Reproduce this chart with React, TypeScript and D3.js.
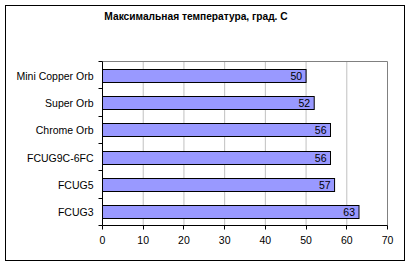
import React from "react";
import * as d3 from "d3";

const categories = ["Mini Copper Orb", "Super Orb", "Chrome Orb", "FCUG9C-6FC", "FCUG5", "FCUG3"];
const values = [50, 52, 56, 56, 57, 63];
const xTicks = [0, 10, 20, 30, 40, 50, 60, 70];
const title = "Максимальная температура, град. С";

export default function App() {
  const W = 411, H = 267;
  const left = 102.5, right = 387.5, top = 61.5, bottom = 225.5;
  const x = d3.scaleLinear().domain([0, 70]).range([left, right]);
  const y = d3.scaleBand<string>().domain(categories).range([top, bottom]).paddingInner(0.52).paddingOuter(0.26);
  const band = (bottom - top) / categories.length;
  const font = "Arial, 'Liberation Sans', sans-serif";
  return (
    <svg width={W} height={H} style={{ position: "absolute", left: 0, top: 0, background: "#fff" }} fontFamily={font}>
      <rect x={5.5} y={5.5} width={399} height={255} fill="#fff" stroke="#000" strokeWidth={1} />
      <text x={196} y={19.5} textAnchor="middle" fontSize={10.2} fontWeight="bold">{title}</text>
      {xTicks.slice(1).map((t) => (
        <line key={t} x1={x(t)} x2={x(t)} y1={top} y2={bottom} stroke={t === 70 ? "#808080" : "#c0c0c0"} strokeWidth={1} />
      ))}
      <line x1={left} x2={right} y1={top} y2={top} stroke="#808080" />
      {categories.map((c, i) => (
        <g key={c}>
          <rect x={x(0)} y={Math.round(y(c)!) + 0.5} width={x(values[i]) - x(0)} height={13} fill="#9999FF" stroke="#000" strokeWidth={1} />
          <text x={x(values[i]) - 4} y={Math.round(y(c)!) + 7} dy="0.35em" textAnchor="end" fontSize={10.5}>{values[i]}</text>
          <text x={93.5} y={Math.round(y(c)!) + 7} dy="0.35em" textAnchor="end" fontSize={10.5}>{c}</text>
        </g>
      ))}
      <line x1={left} x2={left} y1={top} y2={bottom} stroke="#000" />
      {d3.range(categories.length + 1).map((i) => (
        <line key={i} x1={left - 4} x2={left} y1={Math.round(top + i * band - 0.5) + 0.5} y2={Math.round(top + i * band - 0.5) + 0.5} stroke="#000" />
      ))}
      <line x1={left} x2={right} y1={bottom} y2={bottom} stroke="#000" />
      {xTicks.map((t) => (
        <g key={t}>
          <line x1={Math.round(x(t) - 0.5) + 0.5} x2={Math.round(x(t) - 0.5) + 0.5} y1={bottom} y2={bottom + 4} stroke="#000" />
          <text x={x(t)} y={244} textAnchor="middle" fontSize={10.5}>{t}</text>
        </g>
      ))}
    </svg>
  );
}
